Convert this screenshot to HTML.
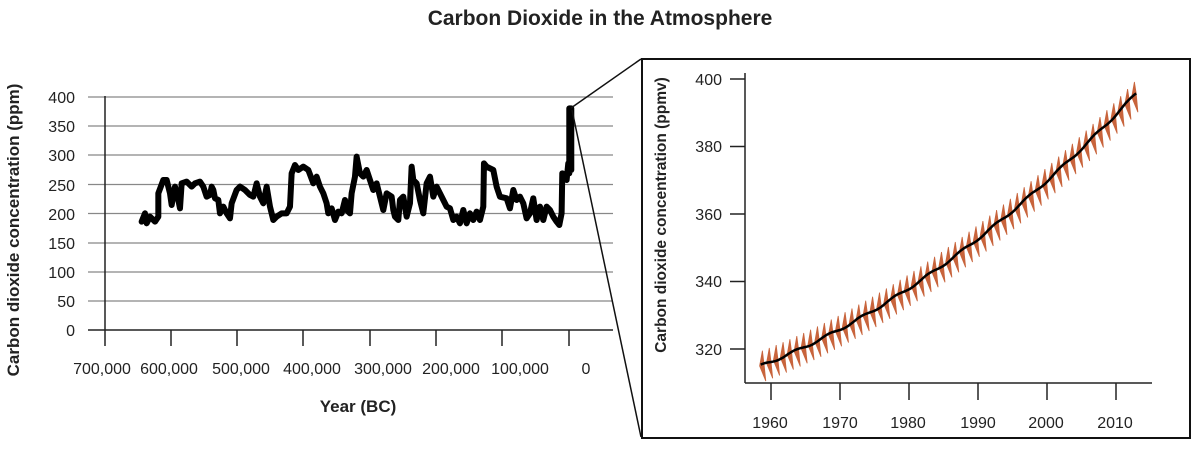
<!DOCTYPE html>
<html><head><meta charset="utf-8"><style>
html,body{margin:0;padding:0;background:#fff;}
svg{display:block;font-family:"Liberation Sans",Arial,sans-serif;}
</style></head><body>
<svg id="s" width="1200" height="449" viewBox="0 0 1200 449" xmlns="http://www.w3.org/2000/svg">
<text x="600" y="25" text-anchor="middle" font-size="21" font-weight="bold" fill="#222">Carbon Dioxide in the Atmosphere</text>
<g stroke="#888" stroke-width="1.3">
<line x1="88" y1="97" x2="613" y2="97"/><line x1="88" y1="126" x2="613" y2="126"/>
<line x1="88" y1="155" x2="613" y2="155"/><line x1="88" y1="184.5" x2="613" y2="184.5"/>
<line x1="88" y1="213.5" x2="613" y2="213.5"/><line x1="88" y1="243" x2="613" y2="243"/>
<line x1="88" y1="272" x2="613" y2="272"/><line x1="88" y1="301" x2="613" y2="301"/>
</g>
<g stroke="#222" stroke-width="1.5">
<line x1="88" y1="330" x2="613" y2="330"/>
<line x1="105" y1="96" x2="105" y2="346"/>
<line x1="171" y1="330" x2="171" y2="346"/><line x1="237" y1="330" x2="237" y2="346"/>
<line x1="303" y1="330" x2="303" y2="346"/><line x1="370" y1="330" x2="370" y2="346"/>
<line x1="436" y1="330" x2="436" y2="346"/><line x1="502" y1="330" x2="502" y2="346"/>
<line x1="569" y1="330" x2="569" y2="346"/>
</g>
<g font-size="16" fill="#222" text-anchor="end">
<text x="75" y="103">400</text><text x="75" y="132">350</text><text x="75" y="161">300</text>
<text x="75" y="191">250</text><text x="75" y="220">200</text><text x="75" y="249">150</text>
<text x="75" y="278">100</text><text x="75" y="307">50</text><text x="75" y="336">0</text>
</g>
<g font-size="16" fill="#222" text-anchor="middle">
<text x="102" y="374">700,000</text><text x="169" y="374">600,000</text><text x="241" y="374">500,000</text>
<text x="312" y="374">400,000</text><text x="383" y="374">300,000</text><text x="451" y="374">200,000</text>
<text x="520" y="374">100,000</text><text x="586" y="374">0</text>
</g>
<text x="358" y="412" text-anchor="middle" font-size="17" font-weight="bold" fill="#222">Year (BC)</text>
<text transform="translate(19,230) rotate(-90)" text-anchor="middle" font-size="17" font-weight="bold" fill="#222">Carbon dioxide concentration (ppm)</text>
<g transform="translate(80,80) scale(0.3333)">
<polyline fill="none" stroke="#000" stroke-width="18" stroke-linejoin="round" stroke-linecap="round" points="185,425 195,400 200,430 210,410 225,425 235,410 235,340 250,300 260,300 270,340 275,375 285,320 290,340 295,360 300,385 305,310 320,305 335,320 345,310 360,305 370,320 380,350 390,345 395,320 400,330 405,355 415,360 420,400 430,380 440,400 450,415 455,370 470,330 480,320 495,330 510,345 520,350 530,310 540,350 550,370 560,320 570,380 580,420 590,410 605,400 620,400 630,380 635,280 645,255 655,270 670,260 685,270 700,310 710,290 720,320 730,340 740,370 745,400 755,385 765,420 775,395 785,400 795,360 800,390 810,400 815,340 825,290 830,230 840,280 850,290 860,270 870,300 880,330 890,310 900,350 910,390 920,340 935,350 940,390 945,410 955,420 960,360 970,350 980,410 990,370 995,260 1000,300 1010,310 1020,360 1030,400 1040,310 1050,290 1060,350 1070,320 1080,340 1090,360 1100,380 1110,385 1120,420 1130,410 1140,430 1150,390 1160,430 1170,400 1180,420 1190,395 1200,420 1210,380 1212,250 1220,260 1240,270 1250,320 1260,350 1280,355 1290,385 1300,330 1310,360 1320,350 1330,370 1340,415 1350,400 1360,355 1370,420 1380,380 1390,420 1400,380 1410,390 1420,410 1430,425 1438,435 1445,400 1447,280 1455,285 1460,300 1465,250 1468,280 1468,85 1474,85 1474,270"/>
</g>
<line x1="571" y1="108" x2="641" y2="59" stroke="#111" stroke-width="1.5"/>
<line x1="572" y1="110" x2="641" y2="437" stroke="#111" stroke-width="1.5"/>
<rect x="642" y="59" width="548" height="379" fill="none" stroke="#111" stroke-width="2"/>
<g stroke="#222" stroke-width="1.5">
<line x1="745" y1="73" x2="745" y2="383"/><line x1="745" y1="383" x2="1152" y2="383"/>
<line x1="730" y1="79" x2="745" y2="79"/><line x1="730" y1="146.5" x2="745" y2="146.5"/>
<line x1="730" y1="214" x2="745" y2="214"/><line x1="730" y1="281.5" x2="745" y2="281.5"/>
<line x1="730" y1="349" x2="745" y2="349"/>
<line x1="771" y1="383" x2="771" y2="400"/><line x1="840" y1="383" x2="840" y2="400"/>
<line x1="909" y1="383" x2="909" y2="400"/><line x1="978" y1="383" x2="978" y2="400"/>
<line x1="1047" y1="383" x2="1047" y2="400"/><line x1="1116" y1="383" x2="1116" y2="400"/>
</g>
<g font-size="16" fill="#222" text-anchor="end">
<text x="722" y="85">400</text><text x="722" y="152">380</text><text x="722" y="220">360</text>
<text x="722" y="287">340</text><text x="722" y="355">320</text>
</g>
<g font-size="16" fill="#222" text-anchor="middle">
<text x="770" y="428">1960</text><text x="840" y="428">1970</text><text x="908" y="428">1980</text>
<text x="978" y="428">1990</text><text x="1046" y="428">2000</text><text x="1115" y="428">2010</text>
</g>
<text transform="translate(666,215) rotate(-90)" text-anchor="middle" font-size="15.5" font-weight="bold" fill="#222">Carbon dioxide concentration (ppmv)</text>
<path id="season" fill="#c8643c" stroke="#c8643c" stroke-width="0.8"/>
<path id="trend" fill="none" stroke="#000" stroke-width="2.5"/>
</svg>
<script>
(function(){
function X(t){return 771+(t-1960)*6.89;}
function Y(v){return 349-(v-320)*3.375;}
function T(t){var d=t-1958.5;return 315+0.8*d+0.0125*d*d;}
var s="",tr="";
for(var t=1958.5;t<2013;t+=1){
 var a=t,b=t+0.5,c=t+1;
 s+="M"+X(a-0.15).toFixed(1)+" "+Y(T(a)).toFixed(1)+
   "L"+X(a+0.25).toFixed(1)+" "+Y(T(a)+4.5).toFixed(1)+
   "L"+X(a+0.5).toFixed(1)+" "+Y(T(a+0.5)).toFixed(1)+
   "L"+X(a+0.75).toFixed(1)+" "+Y(T(a)-4.5).toFixed(1)+"Z";
}
for(var t=1958.5;t<=2013.01;t+=0.25){
 var v=T(t)+0.4*Math.sin(t*1.3);
 tr+=(tr?"L":"M")+X(t).toFixed(1)+" "+Y(v).toFixed(1);
}
document.getElementById("season").setAttribute("d",s);
document.getElementById("trend").setAttribute("d",tr);
})();
</script>
</body></html>
